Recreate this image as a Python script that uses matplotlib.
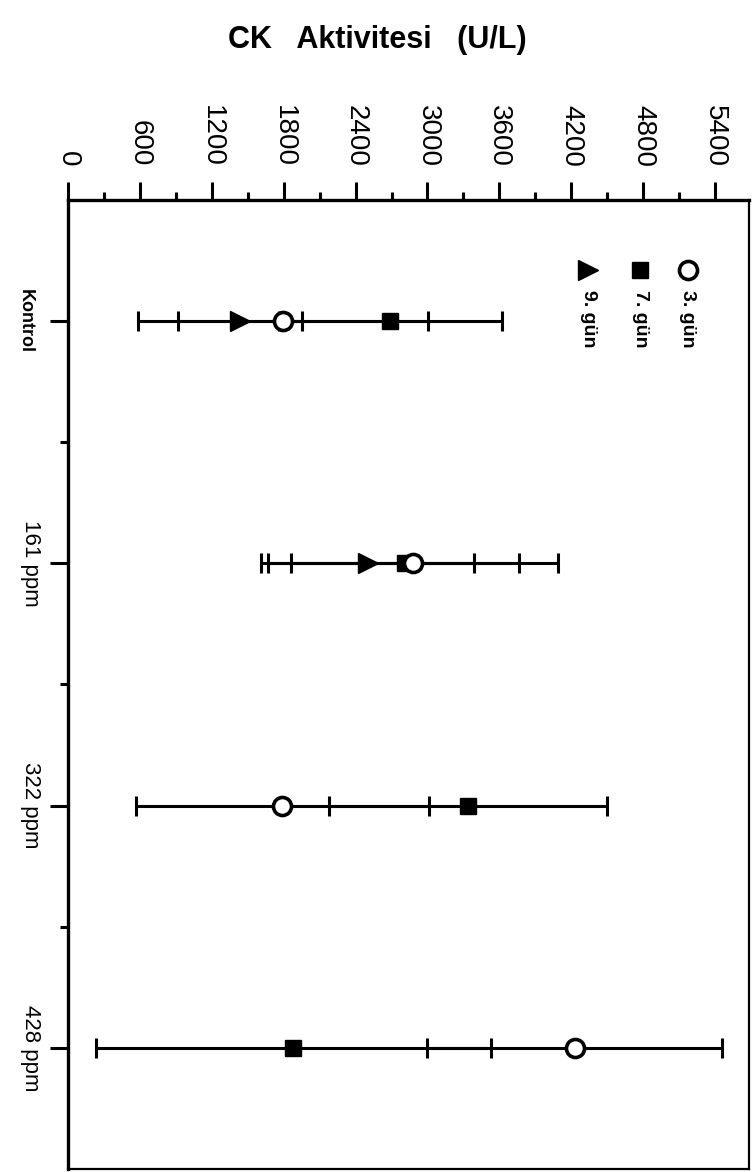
import numpy as np
import matplotlib
matplotlib.use("Agg")
import matplotlib.pyplot as plt
from matplotlib.ticker import MultipleLocator, FixedLocator

plt.rcParams['font.family'] = ['Liberation Sans Narrow', 'Liberation Sans', 'DejaVu Sans']

# veriler (okunan degerler)
gruplar = ['Kontrol', '161 ppm', '322 ppm', '428 ppm']
gun3_ort = [1795, 2880, 1790, 4230]
gun3_sd = [1212, 1210, 1225, 1230]
gun7_ort = [2690, 2810, 3335, 1880]
gun7_sd = [933, 950, 1160, 1650]
gun9_ort = [1436, 2500, np.nan, np.nan]
gun9_sd = [517, 890, np.nan, np.nan]
seri_adlari = ['3. gün', '7. gün', '9. gün']
deger_ticks = [0, 600, 1200, 1800, 2400, 3000, 3600, 4200, 4800, 5400]

fig = plt.figure(figsize=(7.54, 11.72), dpi=100)
ax = fig.add_axes([0.0902, 0.0026, 0.9032, 0.8268])

y = np.arange(len(gruplar))
eb = dict(fmt='none', ecolor='black', elinewidth=2.2, capsize=7, capthick=2.2, zorder=2)
ax.errorbar(gun9_ort, y, xerr=gun9_sd, **eb)
ax.errorbar(gun7_ort, y, xerr=gun7_sd, **eb)
ax.errorbar(gun3_ort, y, xerr=gun3_sd, **eb)

ax.plot(gun9_ort, y, '>', color='black', markersize=14, linestyle='none', zorder=3)
ax.plot(gun7_ort, y, 's', color='black', markersize=11, linestyle='none', zorder=4)
ax.plot(gun3_ort, y, 'o', mfc='white', mec='black', mew=2.6, markersize=13,
        linestyle='none', zorder=5)

ax.set_xlim(0, 5684)
ax.set_ylim(len(gruplar) - 0.5, -0.5)

# deger ekseni ustte, dondurulmus etiketler
ax.xaxis.tick_top()
ax.xaxis.set_major_locator(FixedLocator(deger_ticks))
ax.xaxis.set_minor_locator(MultipleLocator(300))
ax.set_xticklabels([str(t) for t in deger_ticks])
ax.tick_params(axis='x', which='major', length=13, width=2.2, labelrotation=270,
               labelsize=20, pad=11, direction='out')
ax.tick_params(axis='x', which='minor', length=6, width=2.2, direction='out')

ax.yaxis.set_major_locator(FixedLocator(y))
ax.yaxis.set_minor_locator(FixedLocator(y[:-1] + 0.5))
ax.set_yticklabels([])
ax.tick_params(axis='y', which='major', length=13, width=2.2, direction='out')
ax.tick_params(axis='y', which='minor', length=6, width=2.2, direction='out')

for s in ['top', 'left']:
    ax.spines[s].set_linewidth(2.4)
for s in ['right', 'bottom']:
    ax.spines[s].set_linewidth(1.6)

# kategori etiketleri
for i, g in enumerate(gruplar):
    if i == 0:
        ax.text(-0.050, i, g, rotation=270, ha='right', va='center', fontsize=13,
                fontweight='bold', transform=ax.get_yaxis_transform())
    else:
        ax.text(-0.040, i, g, rotation=270, ha='right', va='center', fontsize=16,
                transform=ax.get_yaxis_transform())

# lejant (dondurulmus)
leg_x = [0.910, 0.840, 0.764]
ax.plot(leg_x[0], 0.928, 'o', mfc='white', mec='black', mew=2.6, markersize=13,
        transform=ax.transAxes, clip_on=False)
ax.plot(leg_x[1], 0.928, 's', color='black', markersize=11, transform=ax.transAxes)
ax.plot(leg_x[2], 0.928, '>', color='black', markersize=14, transform=ax.transAxes)
for lx, ad in zip(leg_x, seri_adlari):
    ax.text(lx, 0.907, ad, rotation=270, ha='center', va='top', fontsize=14,
            fontweight='bold', transform=ax.transAxes)

fig.text(0.501, 0.966, 'CK   Aktivitesi   (U/L)', ha='center', va='center',
         fontsize=22, fontweight='bold')

fig.savefig('out.png', dpi=100)
